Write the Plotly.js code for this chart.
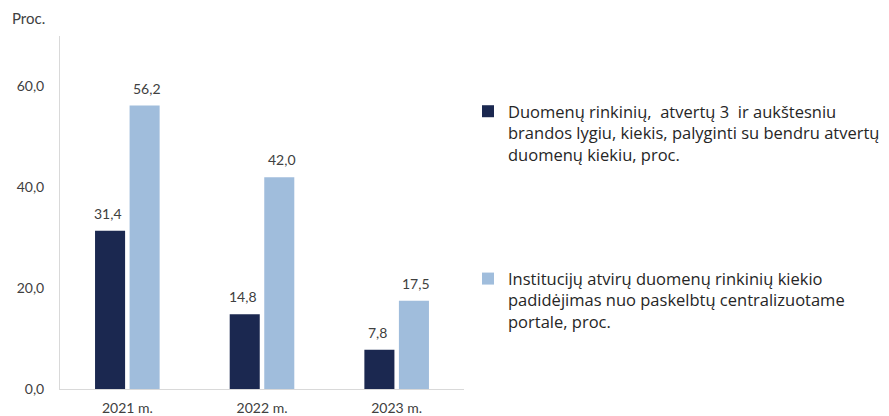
<!DOCTYPE html>
<html>
<head>
<meta charset="utf-8">
<script src="https://cdn.plot.ly/plotly-3.0.1.min.js"></script>
<style>html,body{margin:0;padding:0;background:#fff;}#chart{width:889px;height:416px;}</style>
</head>
<body>
<div id="chart"></div>
<script>
var categories = ['2021 m.', '2022 m.', '2023 m.'];
var seriesNames = [
  'Duomenų rinkinių,\u00a0 atvertų 3\u00a0 ir aukštesniu<br>brandos lygiu, kiekis, palyginti su bendru atvertų<br>duomenų kiekiu, proc.',
  'Institucijų atvirų duomenų rinkinių kiekio<br>padidėjimas nuo paskelbtų centralizuotame<br>portale, proc.'
];
var seriesA = [31.4, 14.8, 7.8];
var seriesB = [56.2, 42.0, 17.5];
var yTicks = [0, 20, 40, 60];
var yAxisLabel = 'Proc.';

var colors = ['#1b2850', '#a0bddc'];
var textColor = '#404040';
var fontFam = 'Lato, "Open Sans", sans-serif';
var legendFam = '"Open Sans", Lato, sans-serif';

var traces = [
  {type: 'bar', x: categories, y: seriesA, name: seriesNames[0], marker: {color: colors[0]}, legendgroup: 'a', hoverinfo: 'none'},
  {type: 'bar', x: categories, y: seriesB, name: seriesNames[1], marker: {color: colors[1]}, legendgroup: 'b', hoverinfo: 'none'}
];

var annotations = [];
[seriesA, seriesB].forEach(function (s, si) {
  s.forEach(function (v, i) {
    annotations.push({
      x: categories[i], y: v, xref: 'x', yref: 'y',
      text: v.toFixed(1).replace('.', ','),
      showarrow: false, yanchor: 'bottom', yshift: 7,
      xshift: si === 0 ? -19.5 : 19.5,
      font: {family: fontFam, size: 14, color: textColor}
    });
  });
});
annotations.push({
  x: (10 - 60) / 404, xref: 'paper', y: 1.051, yref: 'paper', text: yAxisLabel,
  showarrow: false, xanchor: 'left', yanchor: 'middle',
  font: {family: fontFam, size: 15, color: textColor}
});

var layout = {
  width: 889, height: 416,
  margin: {l: 60, r: 425, t: 36, b: 27, pad: 0},
  paper_bgcolor: '#ffffff', plot_bgcolor: '#ffffff',
  separators: ', ',
  barmode: 'group', bargap: 0.487, bargroupgap: 0.13,
  font: {family: fontFam, size: 14, color: textColor},
  xaxis: {
    type: 'category', showline: true, linecolor: '#d9d9d9', linewidth: 1,
    showgrid: false, zeroline: false, ticks: '', ticklabelstandoff: 6,
    tickfont: {family: fontFam, size: 14, color: textColor}, fixedrange: true
  },
  yaxis: {
    range: [0, 70], tickvals: yTicks, tickformat: '.1f',
    showline: true, linecolor: '#d9d9d9', linewidth: 1,
    showgrid: false, zeroline: false, ticks: '', ticklabelstandoff: 12,
    tickfont: {family: fontFam, size: 14, color: textColor}, fixedrange: true
  },
  showlegend: true,
  legend: {
    xref: 'container', yref: 'container', x: 468 / 889, y: 1 - 94 / 416,
    xanchor: 'left', yanchor: 'top', valign: 'top',
    traceorder: 'grouped', tracegroupgap: 100, maxheight: 400,
    font: {family: legendFam, size: 16.5, color: '#262626'},
    bgcolor: 'rgba(0,0,0,0)', borderwidth: 0
  },
  annotations: annotations
};

Plotly.newPlot('chart', traces, layout, {staticPlot: true, displayModeBar: false});
</script>
</body>
</html>
